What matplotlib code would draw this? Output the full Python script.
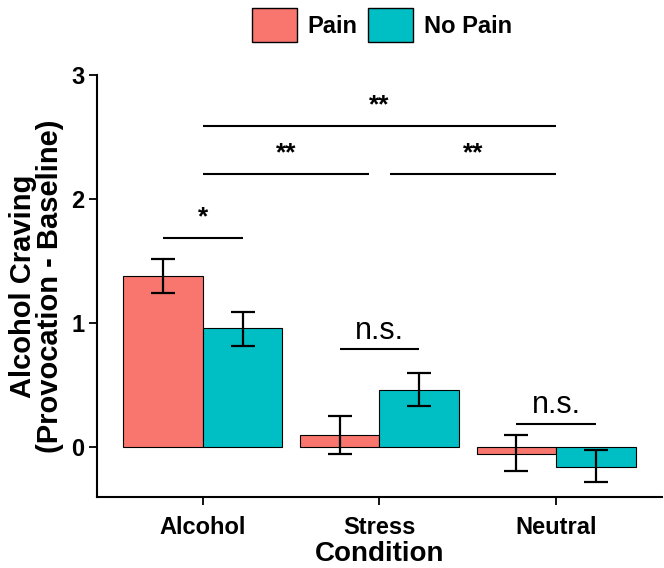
import numpy as np
import matplotlib.pyplot as plt
from matplotlib.patches import Patch

plt.rcParams['font.family'] = ['Liberation Sans', 'DejaVu Sans']

# Dados
conditions = ["Alcohol", "Stress", "Neutral"]
groups = ["Pain", "No Pain"]
pain_mean = [1.38, 0.10, -0.05]
pain_lo = [1.24, -0.05, -0.19]
pain_hi = [1.52, 0.25, 0.10]
nopain_mean = [0.96, 0.46, -0.16]
nopain_lo = [0.82, 0.33, -0.28]
nopain_hi = [1.09, 0.60, -0.02]
colors = ["#F8766D", "#00BFC4"]

# comparacoes: (x1, x2, y linha, texto)
comparisons = [
    (0.775, 1.225, 1.69, "*"),
    (1.0, 1.94, 2.20, "**"),
    (2.06, 3.0, 2.20, "**"),
    (1.0, 3.0, 2.59, "**"),
    (1.775, 2.225, 0.79, "n.s."),
    (2.775, 3.225, 0.19, "n.s."),
]

fig = plt.figure(figsize=(6.64, 5.68), dpi=100)
ax = fig.add_axes([0.146, 0.125, 0.851, 0.743])

x = np.arange(1, len(conditions) + 1)
w = 0.45
means = [pain_mean, nopain_mean]
los = [pain_lo, nopain_lo]
his = [pain_hi, nopain_hi]
for i in range(2):
    xs = x + (i - 0.5) * w
    m = np.array(means[i])
    ax.bar(xs, m, width=w, color=colors[i], edgecolor="black", linewidth=0.8, zorder=2)
    err = [m - np.array(los[i]), np.array(his[i]) - m]
    ax.errorbar(xs, m, yerr=err, fmt="none", ecolor="black", elinewidth=1.6,
                capsize=8.5, capthick=1.6, zorder=3)

for x1, x2, y, txt in comparisons:
    ax.plot([x1, x2], [y, y], color="black", lw=1.5, solid_capstyle="butt")
    xm = (x1 + x2) / 2
    if txt == "n.s.":
        ax.text(xm, y + 0.03, txt, ha="center", va="bottom", fontsize=22)
    else:
        ax.text(xm, y + 0.07, txt, ha="center", va="bottom", fontsize=19, fontweight="bold")

ax.set_xlim(0.4, 3.6)
ax.set_ylim(-0.4, 3)
ax.set_yticks([0, 1, 2, 3])
ax.set_xticks(x)
ax.set_xticklabels(conditions, fontsize=17, fontweight="bold")
for lab in ax.get_yticklabels():
    lab.set_fontsize(17)
    lab.set_fontweight("bold")
ax.tick_params(axis="both", length=6, width=1.3, color="black")
ax.tick_params(axis="x", pad=8)
ax.tick_params(axis="y", pad=3)
for s in ["top", "right"]:
    ax.spines[s].set_visible(False)
for s in ["left", "bottom"]:
    ax.spines[s].set_linewidth(1.5)

ax.set_xlabel("Condition", fontsize=20, fontweight="bold", labelpad=1)
ax.set_ylabel("Alcohol Craving\n(Provocation - Baseline)", fontsize=21, fontweight="bold",
              linespacing=0.95, labelpad=5)

handles = [Patch(facecolor=colors[i], edgecolor="black", linewidth=1.0, label=groups[i]) for i in range(2)]
leg = fig.legend(handles=handles, loc="center", bbox_to_anchor=(0.575, 0.956), ncol=2,
                 frameon=False, borderpad=0, handlelength=1.9, handleheight=1.86,
                 handletextpad=0.47, columnspacing=0.42, prop={"size": 17, "weight": "bold"})

fig.savefig("out.png", dpi=100)
